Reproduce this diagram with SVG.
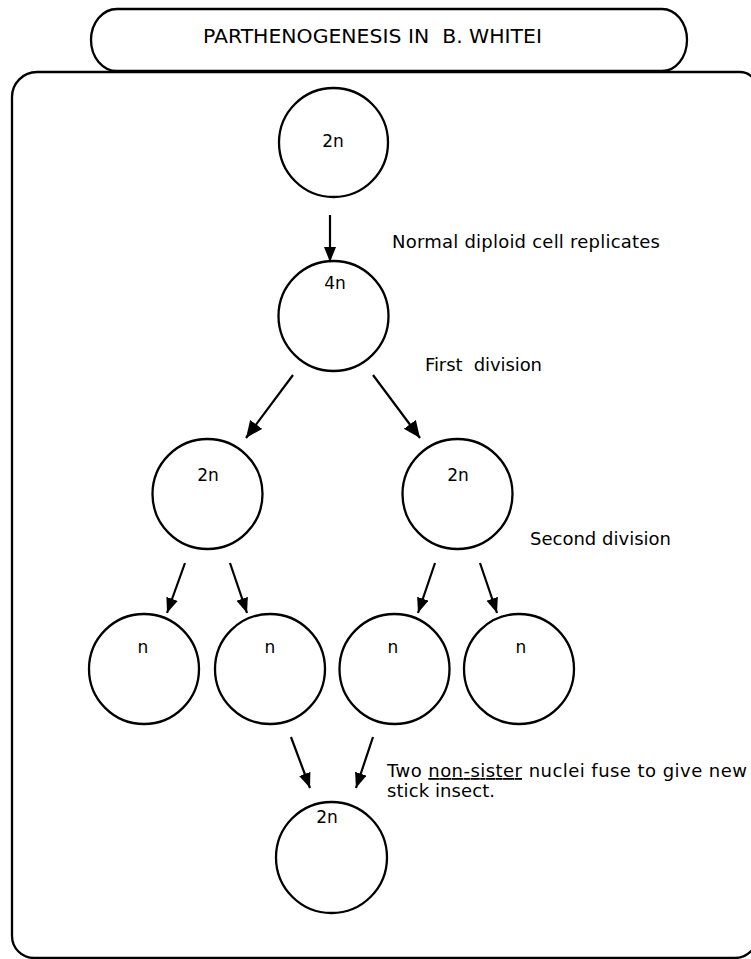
<svg xmlns="http://www.w3.org/2000/svg" width="751" height="959" viewBox="0 0 751 959">
<style>
.frame{fill:none;stroke:#000;stroke-width:2.3}
.cell{fill:#fff;stroke:#000;stroke-width:2.3}
.lbl{font-family:"DejaVu Sans","Liberation Sans",Arial,sans-serif;font-size:17px;fill:#000;text-anchor:middle}
.note{font-family:"DejaVu Sans","Liberation Sans",Arial,sans-serif;font-size:18px;fill:#000}
.title{font-family:"DejaVu Sans","Liberation Sans",Arial,sans-serif;font-size:19px;fill:#000}
.conn{stroke:#000;stroke-width:2.2;fill:none}
.big{marker-end:url(#headBig)}
.small{marker-end:url(#headSmall)}
</style>
<defs>
<marker id="headBig" markerUnits="userSpaceOnUse" markerWidth="18" markerHeight="16" refX="17" refY="7.5" orient="auto">
<path d="M0,0 L17,7.5 L0,15 Z" fill="#000"/>
</marker>
<marker id="headSmall" markerUnits="userSpaceOnUse" markerWidth="16" markerHeight="14" refX="15" refY="6" orient="auto">
<path d="M0,0 L15,6 L0,12 Z" fill="#000"/>
</marker>
</defs>
<rect width="751" height="959" fill="#fff"/>
<g id="outer-frame">
<path class="frame" d="M37,72 H740 A17,17 0 0 1 757,89 V936 A22,22 0 0 1 735,958 H34 A22,22 0 0 1 12,936 V97 A25,25 0 0 1 37,72 Z"/>
</g>
<g id="title">
<path class="frame" d="M117,9 H662 A25,31 0 0 1 662,71 H117 A26,31 0 0 1 117,9 Z"/>
<text class="title" x="203" y="43" textLength="339" lengthAdjust="spacingAndGlyphs" xml:space="preserve">PARTHENOGENESIS IN  B. WHITEI</text>
</g>
<g id="connectors">
<line class="conn small" x1="330" y1="215" x2="330" y2="262"/>
<line class="conn big" x1="293" y1="375" x2="246" y2="438"/>
<line class="conn big" x1="373" y1="375" x2="420" y2="438"/>
<line class="conn small" x1="185" y1="563" x2="167" y2="613"/>
<line class="conn small" x1="230" y1="563" x2="247" y2="613"/>
<line class="conn small" x1="435" y1="563" x2="418" y2="613"/>
<line class="conn small" x1="480" y1="563" x2="497" y2="613"/>
<line class="conn small" x1="291" y1="737" x2="310" y2="788"/>
<line class="conn small" x1="373" y1="737" x2="356" y2="788"/>
</g>
<g id="cell-2n-top">
<circle class="cell" cx="333.5" cy="142.5" r="54.5"/>
<text class="lbl" x="333" y="147">2n</text>
</g>
<g id="cell-4n">
<circle class="cell" cx="333.5" cy="316" r="55"/>
<text class="lbl" x="335" y="289">4n</text>
</g>
<g id="cell-2n-left">
<circle class="cell" cx="207.5" cy="494" r="55"/>
<text class="lbl" x="208" y="481">2n</text>
</g>
<g id="cell-2n-right">
<circle class="cell" cx="457.5" cy="494" r="55"/>
<text class="lbl" x="458" y="481">2n</text>
</g>
<g id="cell-n1">
<circle class="cell" cx="144" cy="669" r="55"/>
<text class="lbl" x="143" y="653">n</text>
</g>
<g id="cell-n2">
<circle class="cell" cx="270" cy="669" r="55"/>
<text class="lbl" x="270" y="653">n</text>
</g>
<g id="cell-n3">
<circle class="cell" cx="394.5" cy="669" r="55"/>
<text class="lbl" x="393" y="653">n</text>
</g>
<g id="cell-n4">
<circle class="cell" cx="519" cy="669" r="55"/>
<text class="lbl" x="521" y="653">n</text>
</g>
<g id="cell-2n-final">
<circle class="cell" cx="331.5" cy="857.5" r="55.5"/>
<text class="lbl" x="327" y="823">2n</text>
</g>
<g id="notes">
<text class="note" x="392" y="248" textLength="268" lengthAdjust="spacing">Normal diploid cell replicates</text>
<text class="note" x="425" y="371" textLength="117" lengthAdjust="spacing" xml:space="preserve">First  division</text>
<text class="note" x="530" y="545" textLength="141" lengthAdjust="spacing">Second division</text>
<text class="note" x="387" y="777" textLength="360" lengthAdjust="spacing">Two <tspan text-decoration="underline">non-sister</tspan> nuclei fuse to give new</text>
<text class="note" x="387" y="797" textLength="108" lengthAdjust="spacing">stick insect.</text>
</g>
</svg>
